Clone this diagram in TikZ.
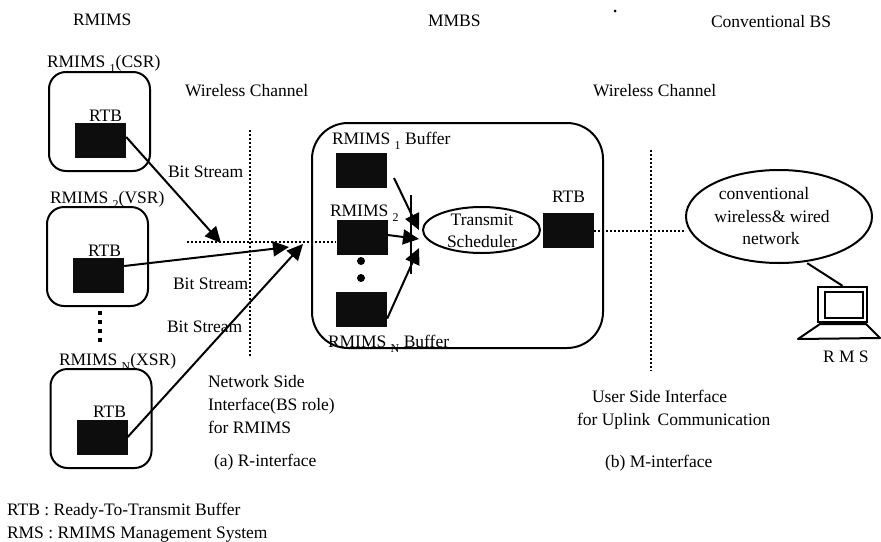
\documentclass[tikz,border=0pt]{standalone}
\usepackage{fontspec}
\setmainfont{Liberation Serif}
\usetikzlibrary{arrows.meta,shapes.geometric}
\newcommand{\sbs}[1]{\raisebox{-5pt}{\fontsize{12}{12}\selectfont #1}}
\tikzset{
  lbl/.style={anchor=base west,inner sep=0pt,outer sep=0pt,font=\fontsize{17.5}{21}\selectfont},
  lblc/.style={anchor=base,inner sep=0pt,outer sep=0pt,font=\fontsize{17.5}{21}\selectfont},
  rbox/.style={draw=black,line width=2pt,rounded corners=17pt,inner sep=0pt,minimum width=101pt,minimum height=99pt},
  mainbox/.style={draw=black,line width=2pt,rounded corners=36pt,inner sep=0pt,minimum width=291pt,minimum height=225pt},
  blk/.style={fill=black!95,draw=none,inner sep=0pt,minimum width=51pt,minimum height=35pt},
  oval/.style={draw=black,line width=2pt,ellipse,inner sep=0pt},
  dotline/.style={line width=2pt,dash pattern=on 2pt off 2pt},
  conn/.style={line width=2pt,-{Triangle[length=16pt,width=15pt]}},
  plain/.style={line width=2pt},
  mon/.style={draw=black,inner sep=0pt}
}
\begin{document}
\begin{tikzpicture}[x=1pt,y=-1pt]
\useasboundingbox (0,0) rectangle (881,541);
% boxes
\node[rbox] (r1) at (99.5,121.5) {};
\node[rbox] (r2) at (97.5,256.5) {};
\node[rbox] (r3) at (101,418.5) {};
\node[blk] (k1) at (100.5,140) {};
\node[blk] (k2) at (98.5,275) {};
\node[blk] (k3) at (102,437) {};
\node[mainbox] (m) at (457.5,235.5) {};
\node[blk] (b1) at (361,170.5) {};
\node[blk] (b2) at (362,237) {};
\node[blk] (bn) at (361.5,309.5) {};
\node[blk] (bt) at (568.5,230.5) {};
\node[oval,minimum width=117pt,minimum height=46pt] (sch) at (481.5,230) {};
\node[oval,minimum width=186pt,minimum height=93pt] (net) at (779,216.5) {};
% coordinates for free ends
\coordinate (hl) at (187,242);
\coordinate (t1) at (221,243);
\coordinate (t2) at (289,247);
\coordinate (t3) at (303,244);
\coordinate (v1a) at (250,130);
\coordinate (v1b) at (250,357);
\coordinate (v2a) at (651,150);
\coordinate (v2b) at (651,371);
\coordinate (ba) at (411,195);
\coordinate (bb) at (411,274);
\coordinate (s1) at (394,178);
\coordinate (a1) at (419,230);
\coordinate (a2) at (419,239);
\coordinate (a3) at (419,248);
% dotted lines
\draw[dotline] (hl) -- (hl -| b2.west);
\draw[dotline] (v1a) -- (v1b);
\draw[dotline] (v2a) -- (v2b);
\draw[dotline] (bt.east) -- (net.west |- bt.east);
% connectors
\draw[conn] ([yshift=3pt]k1.east) -- (t1);
\draw[conn] ([yshift=9pt]k2.east) -- (t2);
\draw[conn] (k3.east) -- (t3);
\draw[plain] (ba) -- (bb);
\draw[conn] (s1) -- (a1);
\draw[conn] ([yshift=2pt]b2.east) -- (a2);
\draw[conn] ([yshift=-9pt]bn.east) -- (a3);
% dots
\foreach \yy in {313,322,331,340} \fill (97.5,\yy-2) rectangle (102,\yy+2);
\fill (361,261) circle (4pt);
\fill (361,278) circle (4pt);
\fill (615,11) circle (1.5pt);
% monitor
\node[mon,line width=2.4pt,minimum width=49pt,minimum height=35pt] (pc) at (842.5,304.5) {};
\node[mon,line width=1.8pt,minimum width=38pt,minimum height=26pt] (scr) at (844,305) {};
\node[draw=none,inner sep=0pt,minimum size=0pt] (netfoot) at (807,263) {};
\draw[line width=2pt] (netfoot) -- (pc.north);
\draw[line width=2pt,line join=round] (820,324) -- (866,324) -- (880,338) -- (798,339) -- cycle;
% labels
\node[lbl] (t01) at (73,25) {RMIMS};
\node[lbl] (t02) at (428,26) {MMBS};
\node[lbl] (t03) at (711,27) {Conventional BS};
\node[lbl] (t04) at (47,67) {RMIMS \sbs{1}(CSR)};
\node[lbl] (t05) at (185,96) {Wireless Channel};
\node[lbl] (t06) at (593,96) {Wireless Channel};
\node[lbl] (t07) at (89,121) {RTB};
\node[lbl] (t08) at (88,256) {RTB};
\node[lbl] (t09) at (93,417) {RTB};
\node[lbl] (t10) at (168,177) {Bit Stream};
\node[lbl] (t11) at (173,289) {Bit Stream};
\node[lbl] (t12) at (167,332) {Bit Stream};
\node[lbl] (t13) at (50,203) {RMIMS \sbs{2}(VSR)};
\node[lbl] (t14) at (59,365) {RMIMS \sbs{N}(XSR)};
\node[lbl] (t15) at (208,387) {Network Side};
\node[lbl] (t16) at (208,410) {Interface(BS role)};
\node[lbl] (t17) at (208,433) {for RMIMS};
\node[lbl] (t18) at (214,466) {(a) R-interface};
\node[lbl] (t19) at (7,515) {RTB : Ready-To-Transmit Buffer};
\node[lbl] (t20) at (7,538) {RMS : RMIMS Management System};
\node[lbl] (t21) at (332,144) {RMIMS \sbs{1} Buffer};
\node[lbl] (t22) at (330,216) {RMIMS \sbs{2}};
\node[lbl] (t23) at (328,347) {RMIMS \sbs{N} Buffer};
\node[lbl] (t24) at (552,202) {RTB};
\node[lblc] (t25) at (482,225) {Transmit};
\node[lblc] (t26) at (482,247) {Scheduler};
\node[lblc] (t27) at (764,199) {conventional};
\node[lblc] (t28) at (772,222) {wireless\& wired};
\node[lblc] (t29) at (771,244) {network};
\node[lbl] (t30) at (823,362) {R M S};
\node[lbl] (t31) at (592,402) {User Side Interface};
\node[lbl] (t32) at (577,425) {for Uplink\, Communication};
\node[lbl] (t33) at (605,467) {(b) M-interface};
\end{tikzpicture}
\end{document}
